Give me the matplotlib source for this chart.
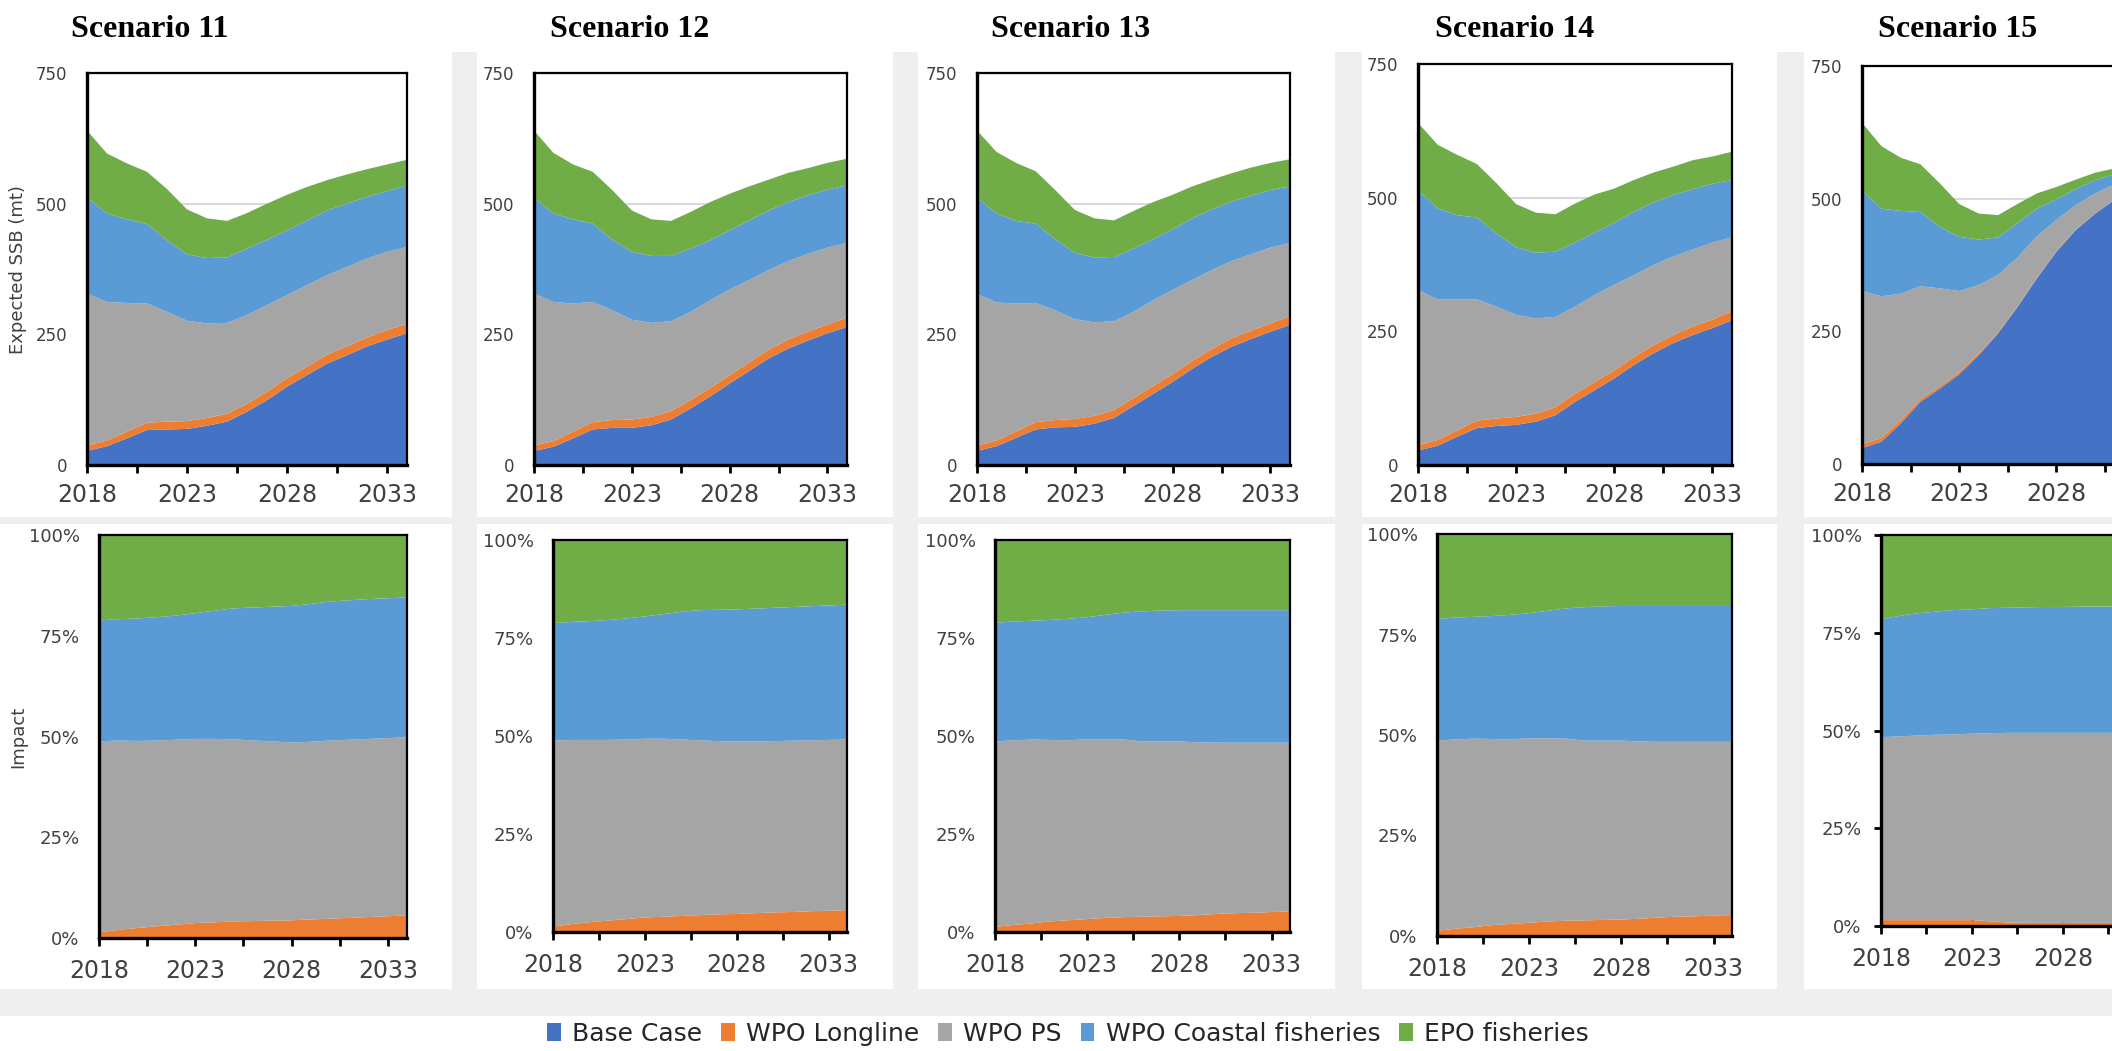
import numpy as np
import matplotlib
matplotlib.use("Agg")
import matplotlib.pyplot as plt
from matplotlib.patches import Rectangle, Patch

# ---------------- data ----------------
years = list(range(2018, 2035))
series_names = ["Base Case", "WPO Longline", "WPO PS", "WPO Coastal fisheries", "EPO fisheries"]
colors = ["#4472C4", "#ED7D31", "#A5A5A5", "#5B9BD5", "#70AD47"]
scenarios = ["Scenario 11", "Scenario 12", "Scenario 13", "Scenario 14", "Scenario 15"]

# Expected SSB (mt) by component
s11_base = [27, 36, 51, 67, 68, 69, 75, 83, 102, 124, 150, 172, 194, 210, 227, 240, 252]
s11_ll = [10, 11, 13, 14, 15, 15, 15, 15, 15, 16, 16, 16, 17, 17, 17, 18, 18]
s11_ps = [291, 265, 246, 228, 210, 192, 181, 174, 170, 166, 159, 156, 152, 152, 151, 150, 147]
s11_coastal = [184, 169, 160, 152, 137, 127, 125, 125, 127, 125, 124, 124, 124, 121, 118, 116, 118]
s11_epo = [128, 115, 107, 100, 98, 86, 76, 70, 68, 69, 68, 64, 58, 56, 53, 51, 49]

s12_base = [27, 35, 51, 68, 71, 71, 76, 87, 108, 131, 156, 180, 204, 223, 238, 252, 264]
s12_ll = [10, 11, 13, 14, 15, 16, 16, 16, 16, 16, 16, 16, 17, 17, 17, 17, 18]
s12_ps = [291, 266, 245, 230, 210, 191, 180, 172, 169, 168, 164, 158, 152, 150, 149, 147, 143]
s12_coastal = [183, 169, 161, 150, 135, 130, 128, 125, 121, 115, 113, 114, 114, 113, 112, 111, 110]
s12_epo = [129, 116, 105, 99, 95, 79, 70, 67, 70, 73, 70, 65, 59, 56, 52, 51, 51]

s13_base = [27, 36, 52, 68, 72, 73, 79, 90, 113, 136, 159, 184, 207, 226, 241, 255, 268]
s13_ll = [10, 11, 12, 14, 14, 15, 15, 15, 15, 15, 15, 15, 15, 16, 16, 16, 17]
s13_ps = [290, 264, 245, 228, 210, 191, 179, 170, 165, 164, 161, 155, 151, 148, 146, 145, 140]
s13_coastal = [185, 170, 158, 152, 136, 127, 124, 123, 121, 117, 116, 118, 116, 114, 112, 110, 108]
s13_epo = [128, 118, 111, 100, 94, 82, 75, 70, 72, 71, 66, 61, 57, 54, 54, 52, 52]

s14_base = [27, 36, 53, 69, 73, 75, 81, 93, 118, 140, 162, 187, 209, 228, 243, 256, 271]
s14_ll = [10, 11, 12, 14, 14, 15, 15, 15, 15, 15, 15, 15, 15, 15, 16, 16, 17]
s14_ps = [290, 263, 245, 227, 209, 191, 178, 169, 163, 163, 160, 153, 150, 147, 144, 144, 138]
s14_coastal = [186, 170, 157, 153, 137, 126, 123, 122, 120, 117, 116, 119, 117, 115, 113, 110, 107]
s14_epo = [127, 119, 113, 100, 94, 81, 75, 70, 73, 71, 64, 59, 56, 53, 54, 51, 53]

s15_base = [30, 42, 77, 117, 142, 169, 205, 246, 296, 350, 400, 441, 472, 498, 520, 538, 552]
s15_ll = [7, 7, 6, 5, 4, 4, 3, 2, 1, 1, 1, 1, 0.5, 0.5, 0.5, 0.5, 0.5]
s15_ps = [289, 267, 238, 213, 185, 153, 129, 108, 92, 78, 59, 46, 37.5, 28.5, 22, 18, 15.5]
s15_coastal = [189, 165, 156, 140, 116, 102, 86, 71, 65, 52, 39, 30, 25, 19, 15, 12, 10]
s15_epo = [128, 118, 100, 90, 82, 62, 49, 42, 36, 29, 23, 18, 14, 11, 8.5, 6.5, 6]

# Impact share (%) by fishery
s11_ll_pct = [1.4, 2.0, 2.5, 2.9, 3.3, 3.7, 3.9, 4.1, 4.2, 4.3, 4.4, 4.6, 4.8, 5.0, 5.2, 5.4, 5.6]
s11_ps_pct = [47.4, 47.0, 46.4, 46.1, 45.9, 45.7, 45.5, 45.2, 44.8, 44.5, 44.1, 44.1, 44.2, 44.2, 44.2, 44.2, 44.2]
s11_coastal_pct = [30.0, 30.1, 30.4, 30.6, 30.8, 31.2, 31.8, 32.5, 33.0, 33.4, 33.9, 34.2, 34.5, 34.6, 34.7, 34.7, 34.7]
s11_epo_pct = [21.2, 20.9, 20.7, 20.4, 20.0, 19.4, 18.8, 18.2, 18.0, 17.8, 17.6, 17.1, 16.5, 16.2, 15.9, 15.7, 15.5]

s12_ll_pct = [1.4, 2.0, 2.5, 2.9, 3.3, 3.7, 3.9, 4.1, 4.3, 4.5, 4.6, 4.8, 5.0, 5.1, 5.3, 5.4, 5.6]
s12_ps_pct = [47.4, 47.0, 46.5, 46.1, 45.8, 45.6, 45.4, 45.0, 44.6, 44.2, 44.0, 43.8, 43.7, 43.7, 43.6, 43.6, 43.5]
s12_coastal_pct = [30.0, 30.1, 30.3, 30.6, 30.9, 31.2, 31.8, 32.6, 33.2, 33.5, 33.7, 33.9, 34.0, 34.1, 34.2, 34.3, 34.4]
s12_epo_pct = [21.2, 20.9, 20.7, 20.4, 20.0, 19.5, 18.9, 18.3, 17.9, 17.8, 17.7, 17.5, 17.3, 17.1, 16.9, 16.7, 16.5]

s13_ll_pct = [1.3, 1.8, 2.2, 2.7, 3.0, 3.3, 3.6, 3.8, 3.9, 4.0, 4.1, 4.3, 4.6, 4.8, 4.9, 5.1, 5.2]
s13_ps_pct = [47.3, 47.1, 46.9, 46.3, 45.9, 45.9, 45.6, 45.3, 44.7, 44.6, 44.5, 44.1, 43.7, 43.5, 43.4, 43.2, 43.1]
s13_coastal_pct = [30.3, 30.3, 30.3, 30.6, 31.0, 31.1, 31.7, 32.4, 33.2, 33.4, 33.5, 33.7, 33.8, 33.8, 33.8, 33.8, 33.8]
s13_epo_pct = [21.1, 20.8, 20.6, 20.4, 20.1, 19.7, 19.1, 18.5, 18.2, 18.0, 17.9, 17.9, 17.9, 17.9, 17.9, 17.9, 17.9]

s14_ll_pct = [1.3, 1.8, 2.2, 2.7, 3.0, 3.3, 3.6, 3.8, 3.9, 4.0, 4.1, 4.3, 4.6, 4.8, 4.9, 5.1, 5.2]
s14_ps_pct = [47.3, 47.1, 46.9, 46.3, 45.9, 45.9, 45.6, 45.3, 44.7, 44.6, 44.5, 44.1, 43.7, 43.5, 43.4, 43.2, 43.1]
s14_coastal_pct = [30.3, 30.3, 30.3, 30.6, 31.0, 31.1, 31.7, 32.4, 33.2, 33.4, 33.5, 33.7, 33.8, 33.8, 33.8, 33.8, 33.8]
s14_epo_pct = [21.1, 20.8, 20.6, 20.4, 20.1, 19.7, 19.1, 18.5, 18.2, 18.0, 17.9, 17.9, 17.9, 17.9, 17.9, 17.9, 17.9]

s15_ll_pct = [1.5, 1.5, 1.5, 1.5, 1.5, 1.5, 1.2, 0.9, 0.8, 0.8, 0.8, 0.8, 0.8, 0.8, 0.8, 0.8, 0.8]
s15_ps_pct = [46.8, 47.0, 47.2, 47.4, 47.5, 47.7, 48.1, 48.5, 48.6, 48.6, 48.6, 48.6, 48.6, 48.6, 48.6, 48.6, 48.6]
s15_coastal_pct = [30.1, 30.8, 31.3, 31.5, 31.8, 31.8, 32.0, 32.0, 32.1, 32.2, 32.2, 32.3, 32.3, 32.3, 32.3, 32.3, 32.3]
s15_epo_pct = [21.6, 20.7, 20.0, 19.6, 19.2, 19.0, 18.7, 18.6, 18.5, 18.4, 18.4, 18.3, 18.3, 18.3, 18.3, 18.3, 18.3]

ssb_tick_values = [0, 250, 500, 750]
pct_tick_values = [0, 25, 50, 75, 100]
pct_tick_labels = ["0%", "25%", "50%", "75%", "100%"]
year_ticks = [2018, 2023, 2028, 2033]
year_labels = ["2018", "2023", "2028", "2033"]

ssb_sets = [
    (s11_base, s11_ll, s11_ps, s11_coastal, s11_epo),
    (s12_base, s12_ll, s12_ps, s12_coastal, s12_epo),
    (s13_base, s13_ll, s13_ps, s13_coastal, s13_epo),
    (s14_base, s14_ll, s14_ps, s14_coastal, s14_epo),
    (s15_base, s15_ll, s15_ps, s15_coastal, s15_epo),
]
pct_sets = [
    (s11_ll_pct, s11_ps_pct, s11_coastal_pct, s11_epo_pct),
    (s12_ll_pct, s12_ps_pct, s12_coastal_pct, s12_epo_pct),
    (s13_ll_pct, s13_ps_pct, s13_coastal_pct, s13_epo_pct),
    (s14_ll_pct, s14_ps_pct, s14_coastal_pct, s14_epo_pct),
    (s15_ll_pct, s15_ps_pct, s15_coastal_pct, s15_epo_pct),
]

# ---------------- layout (pixel boxes: x0, y0, x1, y1 from top-left) ----------------
W, H = 2112, 1051
fig = plt.figure(figsize=(W / 100, H / 100), dpi=100)
fig.patch.set_facecolor("white")


def frac(box):
    x0, y0, x1, y1 = box
    return [x0 / W, 1 - y1 / H, (x1 - x0) / W, (y1 - y0) / H]


def add_rect(box, color, z):
    x0, y0, x1, y1 = box
    fig.add_artist(Rectangle((x0 / W, 1 - y1 / H), (x1 - x0) / W, (y1 - y0) / H,
                             transform=fig.transFigure, facecolor=color,
                             edgecolor="none", zorder=z))


# grey backdrop with white chart cards
add_rect((0, 52, W, 1016), "#efefef", -20)
col_x = [(0, 452), (477, 893), (918, 1335), (1362, 1777), (1804, W)]
for (x0, x1) in col_x:
    add_rect((x0, 52, x1, 517), "white", -19)
    add_rect((x0, 524, x1, 989), "white", -19)

top_boxes = [(87, 73, 407, 465), (534, 73, 847, 465), (977, 73, 1290, 465),
             (1418, 64, 1732, 465), (1862, 66, 2173, 464)]
bot_boxes = [(99, 535, 407, 938), (553, 540, 847, 932), (995, 540, 1290, 932),
             (1437, 534, 1732, 936), (1881, 535, 2172, 926)]
title_x = [150, 630, 1071, 1515, 1958]

txt_color = "#404040"


def style_axes(ax, cut_last_label, ytick_len=0):
    ax.set_xlim(2018, 2034)
    ax.set_xticks(year_ticks)
    labels = list(year_labels)
    if cut_last_label:
        # the 2033 label falls past the right edge of the figure
        labels[-1] = ""
    ax.set_xticklabels(labels)
    ax.set_xticks([2020.5, 2025.5, 2030.5], minor=True)
    ax.tick_params(axis="x", which="major", direction="inout", length=12, width=2,
                   color="black", labelsize=17, labelcolor=txt_color, pad=9)
    ax.tick_params(axis="x", which="minor", direction="out", length=5.5, width=2,
                   color="black")
    ax.tick_params(axis="y", which="major", length=ytick_len, width=2, color="black",
                   pad=14 - ytick_len, labelcolor=txt_color)
    for side in ["top", "right"]:
        ax.spines[side].set_color("black")
        ax.spines[side].set_linewidth(1.6)
    for side in ["left", "bottom"]:
        ax.spines[side].set_color("black")
        ax.spines[side].set_linewidth(2.4)
    ax.set_facecolor("white")


for i in range(5):
    last = (i == 4)
    # SSB panel
    ax = fig.add_axes(frac(top_boxes[i]))
    ax.stackplot(years, *ssb_sets[i], colors=colors, linewidth=0, zorder=2)
    ax.set_ylim(0, 750)
    ax.set_yticks(ssb_tick_values)
    ax.yaxis.grid(True, color="#d9d9d9", linewidth=1.5, zorder=0)
    ax.set_axisbelow(True)
    style_axes(ax, last)
    ax.tick_params(axis="y", labelsize=12)
    ax.tick_params(axis="x", pad=7)

    # impact share panel
    bx = fig.add_axes(frac(bot_boxes[i]))
    bx.stackplot(years, *pct_sets[i], colors=colors[1:], linewidth=0, zorder=2)
    bx.set_ylim(0, 100)
    bx.set_yticks(pct_tick_values)
    bx.set_yticklabels(pct_tick_labels)
    style_axes(bx, last, ytick_len=5 if last else 0)
    bx.tick_params(axis="y", labelsize=13)

    fig.text(title_x[i] / W, 1 - 37 / H, scenarios[i], fontsize=23,
             fontweight="bold", family="Liberation Serif", ha="center", va="baseline")

fig.text(18 / W, 1 - 270 / H, "Expected SSB (mt)", rotation=90, fontsize=13,
         color=txt_color, ha="center", va="center")
fig.text(18 / W, 1 - 737 / H, "Impact", rotation=90, fontsize=13,
         color=txt_color, ha="center", va="center")

handles = [Patch(facecolor=c, edgecolor="none") for c in colors]
fig.legend(handles, series_names, loc="center", bbox_to_anchor=(1068 / W, 1 - 1034 / H),
           ncol=5, frameon=False, fontsize=18, handlelength=0.55, handleheight=0.75,
           handletextpad=0.45, columnspacing=0.75, labelcolor="#262626")

fig.savefig("out.png", dpi=100, facecolor="white")
